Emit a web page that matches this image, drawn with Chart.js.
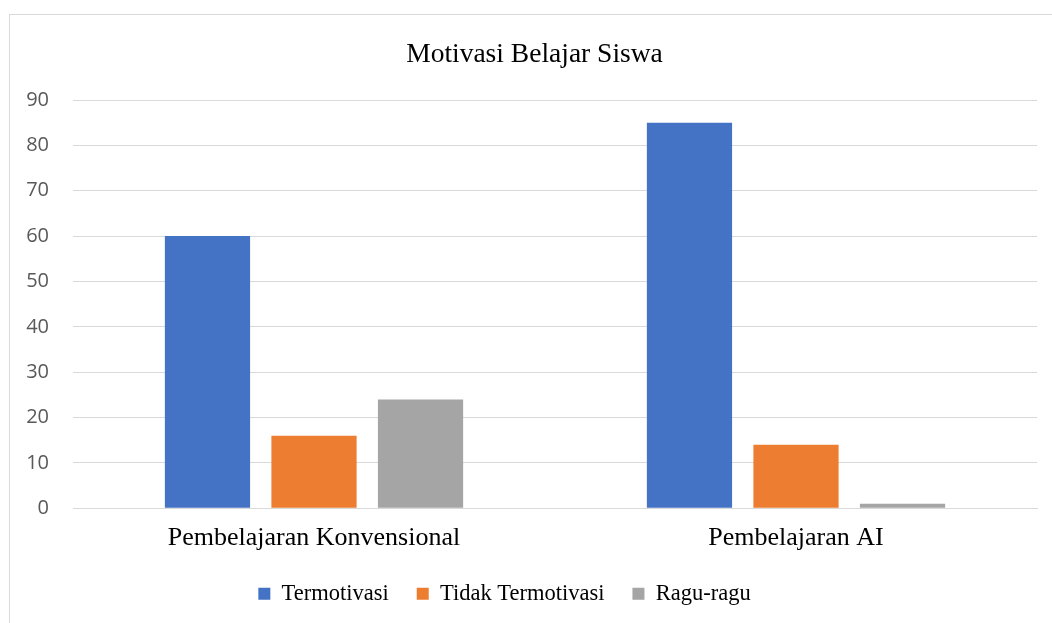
<!DOCTYPE html>
<html>
<head>
<meta charset="utf-8">
<script src="https://cdn.jsdelivr.net/npm/chart.js@4.4.0/dist/chart.umd.min.js"></script>
<style>
  html, body { margin: 0; padding: 0; background: #fff; overflow: hidden; width: 1052px; height: 623px; }
  #frame { position: absolute; left: 9px; top: 14px; width: 1200px; height: 800px; border: 1px solid #d9d9d9; box-sizing: border-box; }
  #c { position: absolute; left: 0; top: 0; }
</style>
</head>
<body>
<div id="frame"></div>
<canvas id="c" width="1052" height="623"></canvas>
<script>
const chartTitle = "Motivasi Belajar Siswa";
const categories = ["Pembelajaran Konvensional", "Pembelajaran AI"];
const seriesNames = ["Termotivasi", "Tidak Termotivasi", "Ragu-ragu"];
const termotivasi = [60, 85];
const tidakTermotivasi = [16, 14];
const raguRagu = [24, 1];
const seriesColors = ["#4472C4", "#ED7D31", "#A5A5A5"];
const yMin = 0, yMax = 90, yStep = 10;

const seriesValues = [termotivasi, tidakTermotivasi, raguRagu];

const boxShift = {
  id: "boxShift",
  afterLayout(chart) {
    if (chart.legend) {
      chart.legend.left -= 23;
      chart.legend.right -= 23;
    }
    if (chart.titleBlock) {
      chart.titleBlock.left += 7;
      chart.titleBlock.right += 7;
    }
  }
};

new Chart(document.getElementById("c"), {
  type: "bar",
  data: {
    labels: categories,
    datasets: seriesNames.map((name, i) => ({
      label: name,
      data: seriesValues[i],
      backgroundColor: seriesColors[i],
      borderWidth: 0,
      categoryPercentage: 0.663,
      barPercentage: 0.8
    }))
  },
  plugins: [boxShift],
  options: {
    responsive: false,
    animation: false,
    layout: { padding: { left: 18, right: 15, top: 0, bottom: 8 } },
    plugins: {
      title: {
        display: true,
        text: chartTitle,
        color: "#000",
        font: { family: "'Liberation Serif', 'Times New Roman', serif", size: 27.5, weight: "normal" },
        padding: { top: 38, bottom: 29 }
      },
      legend: {
        position: "bottom",
        labels: {
          color: "#000",
          font: { family: "'Liberation Serif', 'Times New Roman', serif", size: 22.5 },
          boxWidth: 12,
          boxHeight: 12,
          padding: 28
        }
      },
      tooltip: { enabled: false }
    },
    scales: {
      x: {
        grid: { display: false, drawTicks: false },
        border: { display: true, color: "#d9d9d9", width: 1 },
        ticks: {
          color: "#000",
          font: { family: "'Liberation Serif', 'Times New Roman', serif", size: 26 },
          padding: 14,
          maxRotation: 0
        },
        afterFit: (axis) => { axis.height -= 13; }
      },
      y: {
        min: yMin,
        max: yMax,
        ticks: {
          stepSize: yStep,
          color: "#595959",
          font: { family: "'Open Sans', sans-serif", size: 20 },
          padding: 24
        },
        grid: { color: "#d9d9d9", lineWidth: 1, drawTicks: false },
        border: { display: false },
        afterFit: (axis) => { axis.width = 55; }
      }
    }
  }
});
</script>
</body>
</html>
